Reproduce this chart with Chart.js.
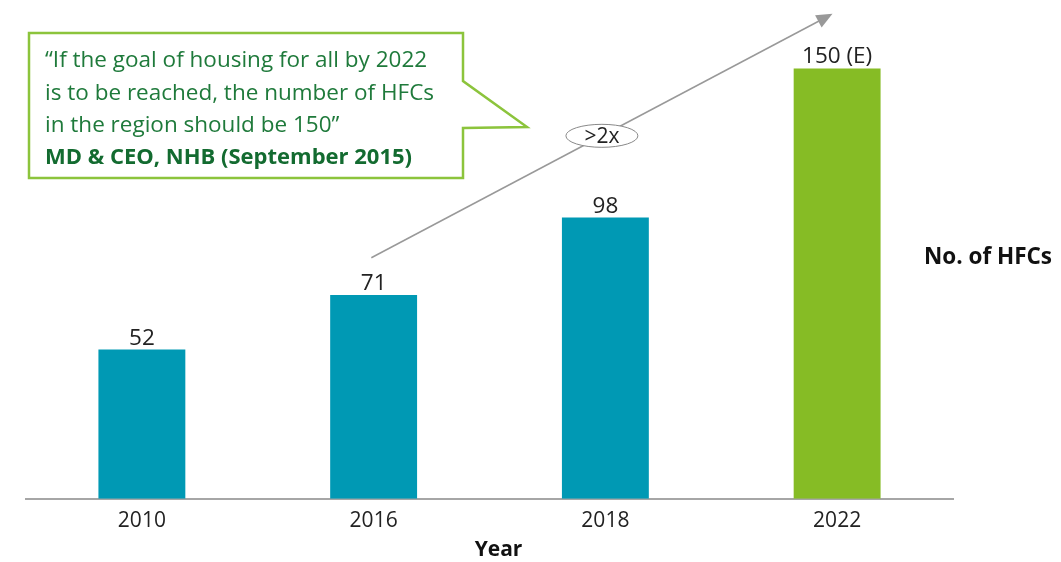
<!DOCTYPE html>
<html>
<head>
<meta charset="utf-8">
<script src="https://cdn.jsdelivr.net/npm/chart.js@4"></script>
<style>
  body { margin: 0; background: #fff; }
  #wrap { width: 1061px; height: 562px; position: relative; }
</style>
</head>
<body>
<div id="wrap"><canvas id="mainChart"></canvas></div>
<script>
// data
const years = ["2010", "2016", "2018", "2022"]
const hfcCounts = [52, 71, 98, 150]
const valueLabels = ["52", "71", "98", "150 (E)"]
const barColors = ["#0099b4", "#0099b4", "#0099b4", "#86bc25"]

const quoteLines = [
    "\u201cIf the goal of housing for all by 2022",
    "is to be reached, the number of HFCs",
    "in the region should be 150\u201d"
]
const quoteSource = "MD & CEO, NHB (September 2015)"
const growthLabel = ">2x"
const seriesLabel = "No. of HFCs"
const axisTitle = "Year"

// arrow in data units: [category index, value]
const arrowFrom = [0.99, 84]
const arrowTo = [2.98, 169]

const fontName = "'Open Sans', 'Noto Sans', sans-serif"

const annotations = {
    id: "annotations",
    afterDatasetsDraw(chart) {
        const ctx = chart.ctx
        const xs = chart.scales.x
        const ys = chart.scales.y
        const area = chart.chartArea
        ctx.save()

        // labels above bars
        ctx.font = "22.5px " + fontName
        ctx.fillStyle = "#222"
        ctx.textAlign = "center"
        ctx.textBaseline = "alphabetic"
        chart.getDatasetMeta(0).data.forEach((bar, i) => {
            ctx.fillText(valueLabels[i], bar.x, bar.y - 5)
        })

        // axis title
        ctx.fillStyle = "#111"
        ctx.font = "bold 21px " + fontName
        ctx.fillText(axisTitle, (area.left + area.right) / 2 + 9, area.bottom + 57)

        // growth arrow
        const x1 = xs.getPixelForValue(arrowFrom[0]), y1 = ys.getPixelForValue(arrowFrom[1])
        const x2 = xs.getPixelForValue(arrowTo[0]), y2 = ys.getPixelForValue(arrowTo[1])
        const ang = Math.atan2(y2 - y1, x2 - x1)
        ctx.strokeStyle = "#999"
        ctx.fillStyle = "#999"
        ctx.lineWidth = 1.5
        ctx.beginPath()
        ctx.moveTo(x1, y1)
        ctx.lineTo(x2 - 12 * Math.cos(ang), y2 - 12 * Math.sin(ang))
        ctx.stroke()
        ctx.beginPath()
        ctx.moveTo(x2, y2)
        ctx.lineTo(x2 - 16 * Math.cos(ang) + 7 * Math.sin(ang), y2 - 16 * Math.sin(ang) - 7 * Math.cos(ang))
        ctx.lineTo(x2 - 16 * Math.cos(ang) - 7 * Math.sin(ang), y2 - 16 * Math.sin(ang) + 7 * Math.cos(ang))
        ctx.closePath()
        ctx.fill()

        // ">2x" ellipse at the middle of the arrow
        const mx = (x1 + x2) / 2, my = (y1 + y2) / 2
        ctx.beginPath()
        ctx.ellipse(mx, my, 36, 11.5, 0, 0, Math.PI * 2)
        ctx.fillStyle = "#fff"
        ctx.fill()
        ctx.strokeStyle = "#888"
        ctx.lineWidth = 1
        ctx.stroke()
        ctx.fillStyle = "#222"
        ctx.font = "21px " + fontName
        ctx.textBaseline = "middle"
        ctx.fillText(growthLabel, mx, my + 1)

        // quote callout
        ctx.beginPath()
        ctx.moveTo(29, 33)
        ctx.lineTo(463, 33)
        ctx.lineTo(463, 81)
        ctx.lineTo(527, 127)
        ctx.lineTo(463, 128)
        ctx.lineTo(463, 178)
        ctx.lineTo(29, 178)
        ctx.closePath()
        ctx.fillStyle = "#fff"
        ctx.fill()
        ctx.strokeStyle = "#8cc43c"
        ctx.lineWidth = 2.5
        ctx.stroke()

        ctx.textAlign = "left"
        ctx.textBaseline = "alphabetic"
        ctx.fillStyle = "#1f7a3b"
        ctx.font = "22.5px " + fontName
        quoteLines.forEach((line, i) => {
            ctx.fillText(line, 45, 67 + i * 32.5)
        })
        ctx.fillStyle = "#136b30"
        ctx.font = "bold 22px " + fontName
        ctx.fillText(quoteSource, 45, 164)

        // series label on the right
        ctx.fillStyle = "#111"
        ctx.font = "bold 22.5px " + fontName
        ctx.fillText(seriesLabel, 924, 264)

        ctx.restore()
    }
}

function generateChart(chartId) {
    const ctx = document.getElementById(chartId).getContext("2d")
    window.myChart = new Chart(ctx, {
        type: "bar",
        data: {
            labels: years,
            datasets: [{
                data: hfcCounts,
                backgroundColor: barColors,
                borderWidth: 0,
                categoryPercentage: 1,
                barPercentage: 0.375
            }]
        },
        options: {
            responsive: true,
            maintainAspectRatio: false,
            animation: false,
            layout: { padding: { left: 26, right: 108, top: 11, bottom: 18 } },
            plugins: {
                legend: { display: false },
                tooltip: { enabled: false }
            },
            scales: {
                x: {
                    grid: { display: false, drawTicks: false },
                    border: { display: true, color: "#a6a6a6", width: 2 },
                    ticks: {
                        color: "#222",
                        padding: 10,
                        font: { family: fontName, size: 21 }
                    }
                },
                y: {
                    display: false,
                    min: 0,
                    max: 170
                }
            }
        },
        plugins: [annotations]
    })
}

generateChart("mainChart")
</script>
</body>
</html>
